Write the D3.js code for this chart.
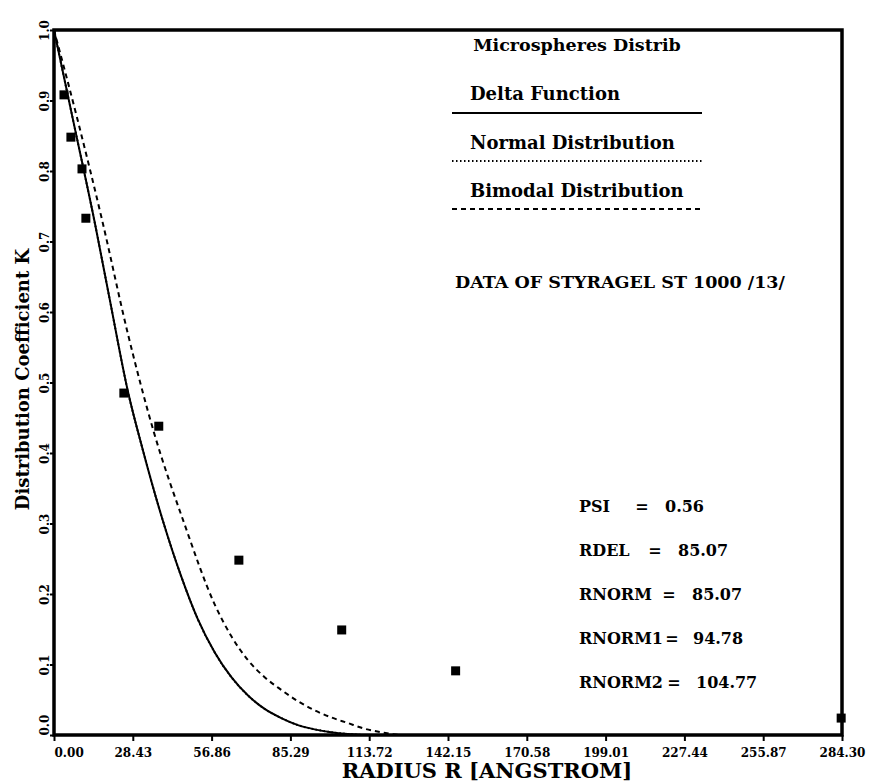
<!DOCTYPE html>
<html>
<head>
<meta charset="utf-8">
<script src="https://cdn.jsdelivr.net/npm/d3@7"></script>
<style>
  body { margin: 0; background: #fff; }
  text { font-family: "DejaVu Serif", serif; fill: #000; }
</style>
</head>
<body>
<div id="chart"></div>
<script>
// tick values of the original plot
const xTicks = [0, 28.43, 56.86, 85.29, 113.72, 142.15, 170.58, 199.01, 227.44, 255.87, 284.30];
const yTicks = [0, 0.1, 0.2, 0.3, 0.4, 0.5, 0.6, 0.7, 0.8, 0.9, 1.0];

// measured K values (squares)
const measR = [3.6, 6.1, 10.1, 11.5, 25.2, 37.8, 66.7, 103.8, 144.9, 284.0];
const measK = [0.908, 0.848, 0.803, 0.733, 0.485, 0.438, 0.248, 0.149, 0.091, 0.024];

// model curves
const deltaR = [0, 7, 14.9, 20, 26.8, 32, 39.2, 45.8, 51.8, 58, 64, 70, 76, 82, 88, 94, 100, 106, 112, 284.3];
const deltaK = [1.0, 0.87, 0.723, 0.62, 0.485, 0.405, 0.305, 0.226, 0.165, 0.117, 0.082, 0.056, 0.037, 0.024, 0.014, 0.008, 0.004, 0.0015, 0, 0];
const normalR = deltaR;
const normalK = deltaK;
const bimodalR = [0, 9, 17.2, 26.6, 36, 47, 58, 64, 70, 76, 82, 88, 94, 100, 106, 112, 118, 126, 284.3];
const bimodalK = [1.0, 0.865, 0.733, 0.57, 0.43, 0.30, 0.185, 0.14, 0.106, 0.082, 0.064, 0.048, 0.035, 0.025, 0.017, 0.009, 0.004, 0, 0];

const legendTitle = "Microspheres Distrib";
const legendLabels = ["Delta Function", "Normal Distribution", "Bimodal Distribution"];
const dataNote = "DATA OF STYRAGEL ST 1000 /13/";
const paramNames = ["PSI", "RDEL", "RNORM", "RNORM1", "RNORM2"];
const paramValues = ["0.56", "85.07", "85.07", "94.78", "104.77"];

const margin = ({top: 30, right: 32, bottom: 48, left: 54});
const width = 874 - margin.left - margin.right,
      height = 783 - margin.top - margin.bottom;

const svg = d3.select("#chart")
              .append("svg")
              .attr("width", 874)
              .attr("height", 783)
              .append("g")
              .attr("transform", "translate(" + margin.left + "," + margin.top + ")");

const xScale = d3.scaleLinear().domain([0, 284.3]).range([0, width]);
const yScale = d3.scaleLinear().domain([0, 1]).range([height, 0]);

// axes
const xAxis = d3.axisBottom(xScale).tickValues(xTicks).tickFormat(d3.format(".2f")).tickSize(6);
const yAxis = d3.axisLeft(yScale).tickValues(yTicks).tickFormat(d3.format(".1f")).tickSize(4);

const drawX = svg.append("g")
                 .attr("class", "axis x-axis")
                 .attr("transform", `translate(0, ${height})`)
                 .call(xAxis);
drawX.select(".domain").remove();
drawX.selectAll("line").attr("stroke", "#000").attr("stroke-width", 2);
drawX.selectAll("text")
     .attr("y", 13)
     .attr("dy", "0.71em")
     .style("font-size", "12px")
     .style("font-weight", "bold")
     .attr("text-anchor", (d, i) => i === 0 ? "start" : "middle");

const drawY = svg.append("g")
                 .attr("class", "axis y-axis")
                 .call(yAxis);
drawY.select(".domain").remove();
drawY.selectAll("line").attr("stroke", "#000").attr("stroke-width", 2);
drawY.selectAll("text")
     .attr("x", 0)
     .attr("dy", 0)
     .attr("transform", "translate(-5,0) rotate(-90)")
     .style("font-size", "12px")
     .style("font-weight", "bold")
     .attr("text-anchor", (d, i) => i === 0 ? "start" : "middle");

// frame
svg.append("rect")
   .attr("width", width)
   .attr("height", height)
   .attr("fill", "none")
   .attr("stroke", "#000")
   .attr("stroke-width", 3.5);

// axis titles
svg.append("text")
   .attr("x", 433)
   .attr("y", height + 43)
   .attr("text-anchor", "middle")
   .style("font-size", "21px")
   .style("font-weight", "bold")
   .text("RADIUS R [ANGSTROM]");
svg.append("text")
   .attr("transform", `translate(${-25}, ${height / 2 - 3}) rotate(-90)`)
   .attr("text-anchor", "middle")
   .style("font-size", "18px")
   .style("font-weight", "bold")
   .text("Distribution Coefficient K");

// curves
const line = (rs, ks) => d3.line()
                           .x((d, i) => xScale(rs[i]))
                           .y((d, i) => yScale(ks[i]))
                           .curve(d3.curveMonotoneX)(rs);
const series = [
  {r: deltaR, k: deltaK, dash: null},
  {r: normalR, k: normalK, dash: "1.5,2.5"},
  {r: bimodalR, k: bimodalK, dash: "5,4"}
];
svg.selectAll(".curve")
   .data(series)
   .enter()
   .append("path")
   .attr("class", "curve")
   .attr("d", d => line(d.r, d.k))
   .attr("fill", "none")
   .attr("stroke", "#000")
   .attr("stroke-width", 2)
   .attr("stroke-dasharray", d => d.dash);

// measured points
svg.selectAll(".pt")
   .data(measR)
   .enter()
   .append("rect")
   .attr("class", "pt")
   .attr("x", (d, i) => xScale(d) - 4.5)
   .attr("y", (d, i) => yScale(measK[i]) - 4.5)
   .attr("width", 9)
   .attr("height", 9)
   .attr("fill", "#000");

// legend
const legend = svg.append("g").attr("transform", "translate(398, 0)");
legend.append("text")
      .attr("x", 125)
      .attr("y", 21)
      .attr("text-anchor", "middle")
      .style("font-size", "17.5px")
      .style("font-weight", "bold")
      .text(legendTitle);
legendLabels.forEach((lab, i) => {
  legend.append("text")
        .attr("x", 18)
        .attr("y", 70 + i * 48.5)
        .style("font-size", "18px")
        .style("font-weight", "bold")
        .text(lab);
  legend.append("line")
        .attr("x1", 0)
        .attr("x2", 250)
        .attr("y1", 83 + i * 48)
        .attr("y2", 83 + i * 48)
        .attr("stroke", "#000")
        .attr("stroke-width", 2)
        .attr("stroke-dasharray", series[i].dash);
});

svg.append("text")
   .attr("x", 401)
   .attr("y", 258)
   .style("font-size", "17.5px")
   .style("font-weight", "bold")
   .text(dataNote);

// parameter block; "=" and value columns as placed in the original
const eqX = [588, 601, 615, 618, 620];
const valX = [611, 624, 638, 639, 642];
const params = svg.selectAll(".param")
                  .data(paramNames)
                  .enter()
                  .append("text")
                  .attr("class", "param")
                  .attr("y", (d, i) => 482 + i * 44)
                  .style("font-size", "16px")
                  .style("font-weight", "bold");
params.append("tspan").attr("x", 525).text(d => d);
params.append("tspan").attr("x", (d, i) => eqX[i]).attr("text-anchor", "middle").text("=");
params.append("tspan").attr("x", (d, i) => valX[i]).text((d, i) => paramValues[i]);
</script>
</body>
</html>
